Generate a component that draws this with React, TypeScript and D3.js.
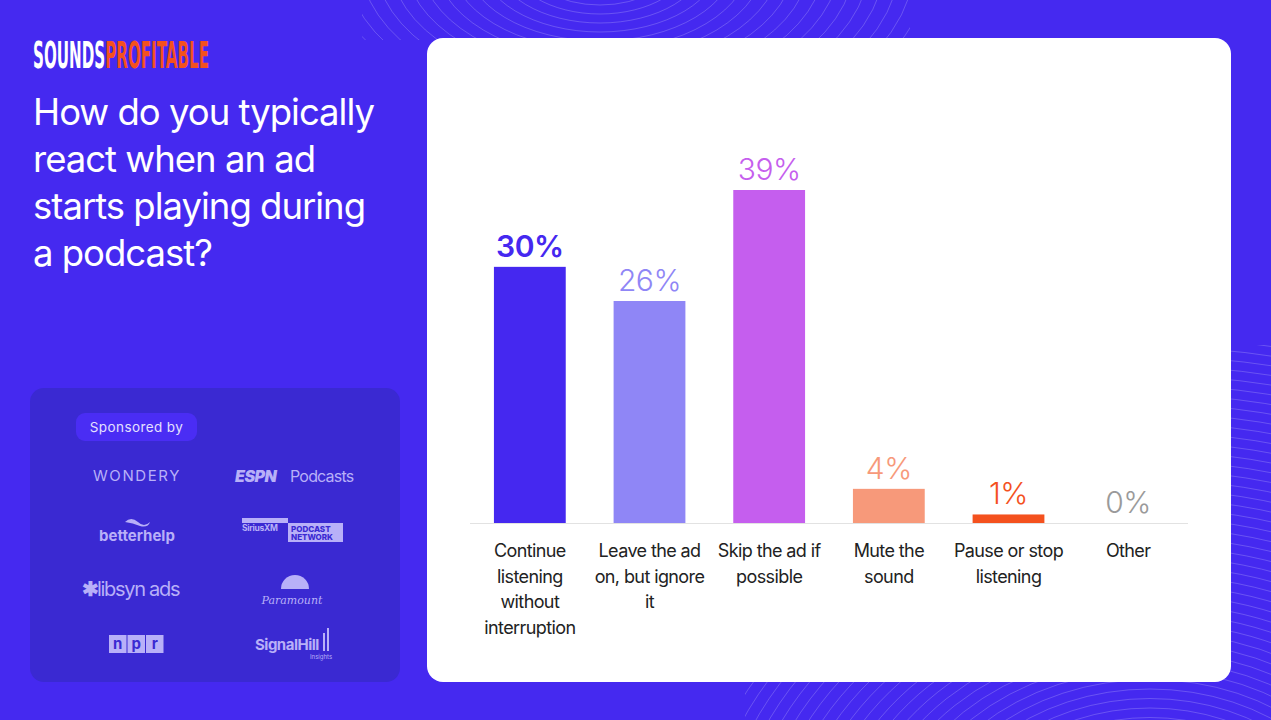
import React from 'react';
import * as d3 from 'd3';

const categories = [
  ['Continue', 'listening', 'without', 'interruption'],
  ['Leave the ad', 'on, but ignore', 'it'],
  ['Skip the ad if', 'possible'],
  ['Mute the', 'sound'],
  ['Pause or stop', 'listening'],
  ['Other'],
];
const values = [30, 26, 39, 4, 1, 0];
const barColors = ['#4528F0', '#8F86F6', '#C55EEE', '#F7997A', '#F4511E', '#D0D0D0'];
const labelColors = ['#4528F0', '#8F86F6', '#C55EEE', '#F7997A', '#F4511E', '#9A9A9A'];
const titleLines = ['How do you typically', 'react when an ad', 'starts playing during', 'a podcast?'];

const W = 1271;
const H = 720;
const BG = '#4529F0';
const LOGO = '#B8B0F8';
const FONT = 'Inter, "Noto Sans", sans-serif';
const NARROW = '"Liberation Sans Narrow", "DejaVu Sans Condensed", sans-serif';

const x = d3
  .scaleBand<number>()
  .domain(d3.range(values.length))
  .range([470, 1188])
  .paddingInner(0.4)
  .paddingOuter(0.2);
const y = d3.scaleLinear().domain([0, 39]).range([523, 190]);

const topRings = d3.range(60, 520, 12);
const bottomRings = d3.range(90, 560, 10);

export default function App() {
  return (
    <svg
      width={W}
      height={H}
      style={{ position: 'absolute', left: 0, top: 0, display: 'block' }}
      fontFamily={FONT}
    >
      <defs>
        <clipPath id="clipTop">
          <rect x={362} y={0} width={548} height={40} />
        </clipPath>
        <clipPath id="clipBottom">
          <rect x={745} y={345} width={526} height={375} />
        </clipPath>
      </defs>
      <rect width={W} height={H} fill={BG} />

      {/* background contour lines */}
      <g fill="none" stroke="#FFFFFF" strokeOpacity={0.2} strokeWidth={1}>
        <g clipPath="url(#clipTop)">
          {topRings.map((r) => (
            <ellipse key={`t${r}`} cx={600} cy={-40} rx={r * 1.25} ry={r * 0.75} />
          ))}
        </g>
        <g clipPath="url(#clipBottom)">
          {bottomRings.map((r) => (
            <ellipse key={`b${r}`} cx={1150} cy={860} rx={r * 1.2} ry={r * 0.95} />
          ))}
        </g>
      </g>

      {/* logo */}
      <g transform="translate(33,68) scale(1,1.8)" fontFamily={NARROW} fontWeight={700} fontSize={21}>
        <text x={0} y={0} fill="#FFFFFF" textLength={176} lengthAdjust="spacingAndGlyphs">
          SOUNDS<tspan fill="#F4511E">PROFITABLE</tspan>
        </text>
      </g>

      {/* title */}
      <g fill="#FFFFFF" fontSize={36.5} fontWeight={400}>
        {titleLines.map((t, i) => (
          <text key={t} x={33} y={125 + i * 47} letterSpacing={-1}>
            {t}
          </text>
        ))}
      </g>

      {/* sponsor panel */}
      <rect x={30} y={388} width={370} height={294} rx={14} fill="#3A29D2" />
      <rect x={76} y={413} width={121} height={28} rx={9} fill="#4A2DF4" />
      <text x={136.5} y={432} textAnchor="middle" fontSize={13.5} fill="#E4E0FF" letterSpacing={0.4}>
        Sponsored by
      </text>
      <g fill={LOGO}>
        <text x={137} y={481} textAnchor="middle" fontSize={15} letterSpacing={1.6}>
          WONDERY
        </text>
        <text x={235} y={482} fontSize={16} fontWeight={900} fontStyle="italic" letterSpacing={-0.5}>
          ESPN
        </text>
        <text x={290} y={482} fontSize={16} letterSpacing={-0.8}>
          Podcasts
        </text>
        <path d="M125,522 q6,-6 13,0 q6,6 12,0 q-2,6 -10,4 q-7,-3 -15,-4z" />
        <text x={137} y={541} textAnchor="middle" fontSize={15} fontWeight={700}>
          betterhelp
        </text>
        <rect x={242} y={518} width={46} height={5} />
        <text x={242} y={531} fontSize={8.5} fontWeight={700} letterSpacing={-0.3}>
          SiriusXM
        </text>
        <rect x={288} y={523} width={55} height={19} />
        <text x={291} y={532} fontSize={8} fontWeight={800} fill="#3A29D2">PODCAST</text>
        <text x={291} y={540} fontSize={8} fontWeight={800} fill="#3A29D2">NETWORK</text>
        <text x={82} y={596} fontSize={20} fontWeight={900}>✱</text>
        <text x={97} y={596} fontSize={20} letterSpacing={-1.3}>
          libsyn ads
        </text>
        <path d="M281,589 a14,14 0 0 1 28,0 z" />
        <text x={292} y={604} textAnchor="middle" fontSize={11} fontStyle="italic" fontFamily='"DejaVu Serif", serif'>
          Paramount
        </text>
        {['n', 'p', 'r'].map((c, i) => (
          <g key={c}>
            <rect x={109 + i * 18.5} y={635} width={17.5} height={18} />
            <text x={117.7 + i * 18.5} y={649} textAnchor="middle" fontSize={15} fontWeight={700} fill="#3A29D2">
              {c}
            </text>
          </g>
        ))}
        <text x={255} y={650} fontSize={15} fontWeight={700} letterSpacing={-0.5}>
          SignalHill
        </text>
        <rect x={323} y={633} width={2} height={18} />
        <rect x={327} y={628} width={2} height={23} />
        <text x={310} y={659} fontSize={6}>Insights</text>
      </g>

      {/* chart card */}
      <rect x={427} y={38} width={804} height={644} rx={16} fill="#FFFFFF" />
      <line x1={470} x2={1188} y1={523.5} y2={523.5} stroke="#E2E2E2" strokeWidth={1} />
      {values.map((v, i) => {
        const bx = x(i)!;
        const cx = bx + x.bandwidth() / 2;
        return (
          <g key={i}>
            {v > 0 && (
              <rect x={bx} y={y(v)} width={x.bandwidth()} height={y(0) - y(v)} fill={barColors[i]} />
            )}
            <text
              x={cx}
              y={y(v) - 10}
              textAnchor="middle"
              fontSize={30}
              fontWeight={i === 0 ? 600 : 300}
              fill={labelColors[i]}
              letterSpacing={-0.5}
            >
              {`${v}%`}
            </text>
            {categories[i].map((line, j) => (
              <text
                key={j}
                x={cx}
                y={557 + j * 25.5}
                textAnchor="middle"
                fontSize={18}
                fill="#222222"
                letterSpacing={-0.6}
              >
                {line}
              </text>
            ))}
          </g>
        );
      })}
    </svg>
  );
}
